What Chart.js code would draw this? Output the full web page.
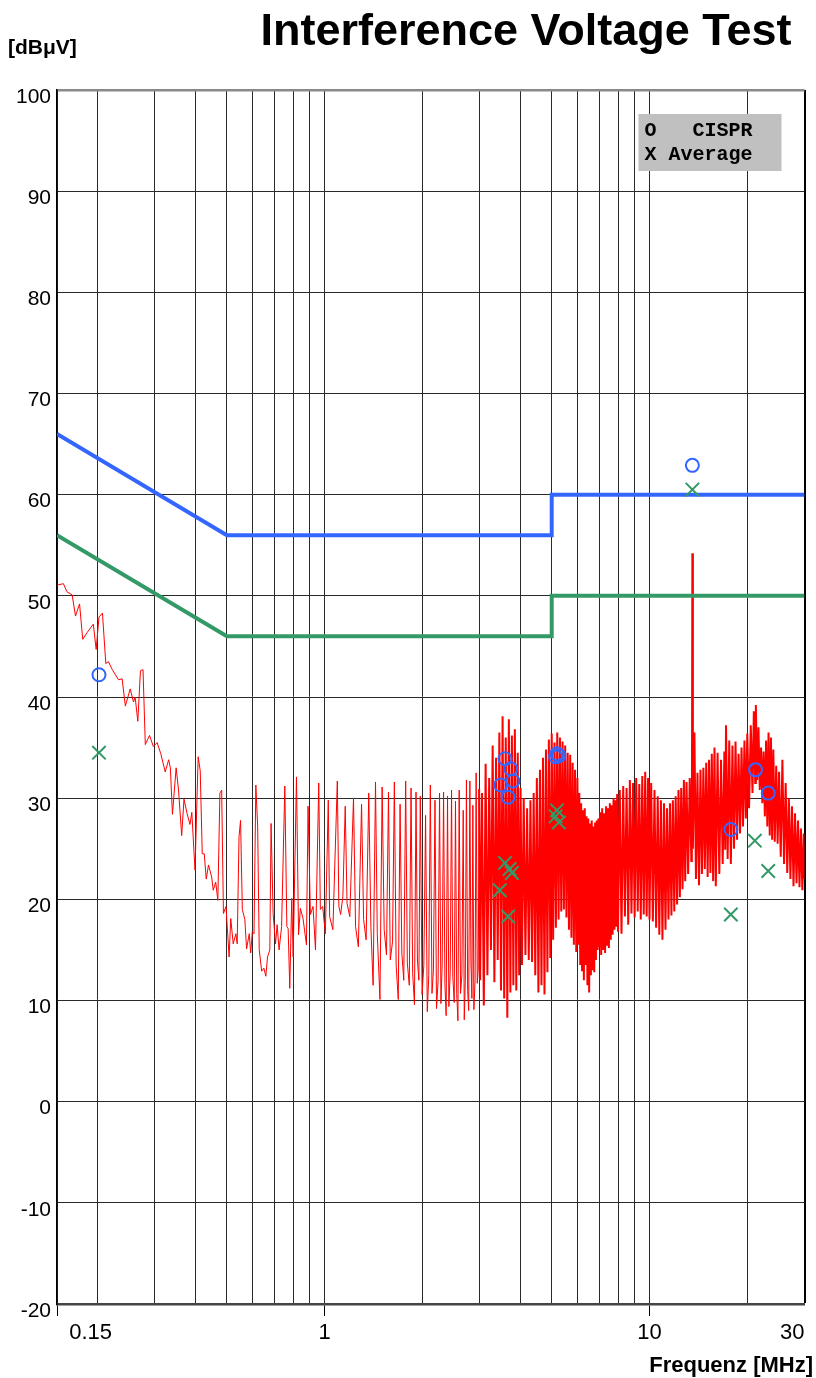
<!DOCTYPE html>
<html>
<head>
<meta charset="utf-8">
<title>Interference Voltage Test</title>
<script src="https://cdn.jsdelivr.net/npm/chart.js@4.4.1/dist/chart.umd.min.js"></script>
<style>
  html, body { margin: 0; padding: 0; background: #fff; }
  #wrap { width: 816px; height: 1378px; position: relative; }
</style>
</head>
<body>
<div id="wrap"><canvas id="myChart" width="816" height="1378"></canvas></div>
<script>
'use strict'
let chartTitle = 'Interference Voltage Test';
let yUnit = '[dBμV]';
let xTitle = 'Frequenz [MHz]';
let legendRows = ['O   CISPR', 'X Average'];

// axis ticks
let xGridValues = [0.15, 0.2, 0.3, 0.4, 0.5, 0.6, 0.7, 0.8, 0.9, 1, 2, 3, 4, 5, 6, 7, 8, 9, 10, 20, 30];
let xTickValues = [0.15, 1, 10, 30];
let xTickLabels = ['  0.15', '1', '10', '30'];
let yMin = -20;
let yMax = 100;
let yStep = 10;

// limit lines
let qpLimitFreq = [0.15, 0.5, 5, 5, 30];
let qpLimitLevel = [66, 56, 56, 60, 60];
let avLimitFreq = [0.15, 0.5, 5, 5, 30];
let avLimitLevel = [56, 46, 46, 50, 50];

// final measurements
let qpFreq = [0.202, 3.48, 3.59, 3.67, 3.74, 3.80, 5.14, 5.19, 5.26, 13.55, 17.8, 21.2, 23.2];
let qpLevel = [42.2, 31.3, 33.9, 30.1, 32.9, 31.7, 34.1, 34.4, 34.2, 62.9, 26.9, 32.8, 30.5];
let avFreq = [0.202, 3.46, 3.59, 3.67, 3.71, 3.77, 5.14, 5.19, 5.26, 13.55, 17.8, 21.1, 23.2];
let avLevel = [34.5, 20.9, 23.6, 18.3, 23.0, 22.6, 28.2, 28.8, 27.6, 60.5, 18.5, 25.8, 22.8];

// pre-scan, [MHz, dBuV]
let scanLow = [
 [0.150,51.0],[0.152,51.1],[0.157,51.2],[0.161,50.4],[0.167,50.1],[0.171,48.0],[0.176,49.2],[0.180,45.7],
 [0.186,46.4],[0.194,47.2],[0.198,44.7],[0.202,47.9],[0.207,48.3],[0.212,43.3],[0.216,43.5],[0.222,42.7],
 [0.232,41.7],[0.238,41.8],[0.2435,39.1],[0.252,40.8],[0.258,39.5],[0.261,40.0],[0.266,37.6],[0.271,42.6],
 [0.276,42.7],[0.2805,35.3],[0.289,36.2],[0.297,35.1],[0.305,35.5],[0.313,34.4],[0.323,32.6],[0.331,33.8],
 [0.335,33.0],[0.340,28.4],[0.349,33.0],[0.355,30.8],[0.363,26.3],[0.369,29.9],[0.377,28.5],[0.385,27.4],
 [0.390,28.6],[0.399,22.9],[0.408,34.1],[0.414,32.7],[0.420,24.5],[0.426,24.5],[0.432,22.0],[0.439,23.4],
 [0.449,22.2],[0.454,20.9],[0.462,21.7],[0.469,19.9],[0.476,30.5],[0.482,30.8],[0.488,18.6],[0.497,19.3],
 [0.508,14.3],[0.514,18.1],[0.523,15.6],[0.533,16.6],[0.538,15.6],[0.545,26.2],[0.551,27.8],[0.558,19.0],
 [0.568,18.0],[0.575,15.1],[0.586,16.6],[0.592,14.7],[0.599,16.8],[0.606,16.6],[0.614,31.3],[0.622,27.2],
 [0.629,15.0],[0.640,12.9],[0.650,13.2],[0.659,12.4],[0.667,14.3],[0.678,15.0],[0.684,27.5],[0.694,18.6],
 [0.706,15.6],[0.714,17.5],[0.724,15.0],[0.737,17.3],[0.754,31.2],[0.765,17.3],[0.772,17.1],[0.781,11.2],
 [0.792,20.1],[0.800,14.3],[0.819,32.1],[0.831,16.5],[0.842,19.1],[0.858,18.1],[0.879,15.5],[0.889,29.2],
 [0.904,18.5],[0.921,19.3],[0.937,15.0],[0.959,31.5],[0.970,19.0],[0.986,19.3],[1.005,16.6],[1.026,29.8],
 [1.036,18.3],[1.060,17.0],[1.094,31.7],[1.106,19.3]
];

let scanComb = [
 [1.120,18.5],[1.138,20.3],[1.157,29.2],[1.172,19.6],[1.195,18.3],[1.227,30.0],[1.245,17.3],[1.270,15.3],
 [1.299,29.4],[1.318,18.0],[1.342,16.0],[1.367,30.5],[1.388,17.2],[1.410,11.5],[1.434,31.6],[1.452,16.6],
 [1.480,10.1],[1.503,31.1],[1.525,17.0],[1.550,14.5],[1.572,30.6],[1.592,14.0],[1.618,15.8],[1.639,31.6],
 [1.660,13.5],[1.685,10.1],[1.707,29.4],[1.728,14.7],[1.752,12.0],[1.776,31.7],[1.797,13.7],[1.822,11.5],
 [1.845,31.0],[1.866,12.7],[1.890,9.6],[1.911,30.6],[1.930,14.0],[1.950,12.0],[1.970,30.2],[1.995,10.6],
 [2.020,13.5],[2.045,28.3],[2.070,8.9],[2.092,12.5],[2.115,31.3],[2.140,10.7],[2.162,13.0],[2.186,29.8],
 [2.210,9.2],[2.235,12.0],[2.258,30.5],[2.280,9.7],[2.300,13.5],[2.323,30.6],[2.345,11.7],[2.366,8.5],
 [2.389,30.2],[2.412,9.4],[2.435,12.8],[2.458,30.8],[2.480,12.4],[2.505,9.8],[2.528,29.7],[2.550,10.7],
 [2.572,8.0],[2.595,30.8],[2.620,10.7],[2.645,12.5],[2.670,28.8],[2.690,8.1],[2.710,12.0],[2.732,31.8],
 [2.755,11.0],[2.776,9.0],[2.799,31.7],[2.820,14.0],[2.840,10.2],[2.859,29.3],[2.880,9.1],[2.905,12.0],
 [2.926,32.5],[2.950,11.7],[2.970,13.0],[2.989,30.9]
];

let scanDense = [
 [3.01,12.0],[3.05,30.5],[3.09,9.5],[3.13,33.4],[3.17,12.5],[3.21,32.0],[3.25,15.0],[3.29,35.2],
 [3.33,11.8],[3.37,34.0],[3.41,14.0],[3.45,36.5],[3.49,11.0],[3.53,38.1],[3.57,10.2],[3.61,36.0],
 [3.65,8.3],[3.69,37.8],[3.73,10.8],[3.77,36.2],[3.81,11.5],[3.85,36.8],[3.89,11.0],[3.93,34.5],
 [3.97,12.5],[4.01,31.0],[4.05,13.5],[4.10,30.0],[4.15,14.5],[4.20,29.0],[4.25,14.0],[4.30,29.8],
 [4.35,13.8],[4.40,30.5],[4.45,12.5],[4.50,32.0],[4.55,10.8],[4.60,32.8],[4.65,11.5],[4.70,34.0],
 [4.75,10.6],[4.80,34.8],[4.85,12.8],[4.90,35.8],[4.95,14.2],[5.00,36.4],[5.05,16.0],[5.10,35.5],
 [5.15,17.2],[5.20,36.5],[5.25,18.0],[5.30,36.0],[5.35,18.8],[5.40,35.6],[5.45,19.0],[5.50,35.2],
 [5.55,18.2],[5.60,34.5],[5.65,17.0],[5.70,34.3],[5.75,16.2],[5.80,33.5],[5.85,15.5],[5.90,32.8],
 [5.95,14.8],[6.00,32.0],[6.04,15.5],[6.08,30.5],[6.12,13.5],[6.16,29.5],[6.20,13.0],[6.24,28.8],
 [6.28,12.0],[6.32,29.0],[6.36,13.5],[6.40,28.2],[6.44,11.5],[6.48,28.0],[6.52,10.8],[6.56,27.5],
 [6.60,12.5],[6.64,27.8],[6.68,13.0],[6.72,27.2],[6.76,12.8],[6.80,27.6],[6.84,14.0],[6.88,27.8],
 [6.92,15.0],[6.96,28.0],[7.00,15.3],[7.05,28.6],[7.10,14.5],[7.15,29.0],[7.20,15.0],[7.25,28.5],
 [7.30,14.7],[7.35,29.2],[7.40,15.5],[7.45,29.0],[7.50,15.2],[7.55,29.5],[7.60,16.0],[7.65,29.3],
 [7.70,16.5],[7.75,30.0],[7.80,17.0],[7.85,29.8],[7.90,17.3],[7.95,30.4],[8.00,16.8],[8.10,30.8],
 [8.20,16.6],[8.30,31.2],[8.40,18.3],[8.50,31.0],[8.60,17.5],[8.70,31.8],[8.80,18.6],[8.90,31.5],
 [9.00,18.2],[9.10,32.0],[9.20,18.8],[9.30,31.4],[9.40,18.0],[9.50,32.2],[9.60,18.5],[9.70,32.6],
 [9.80,18.3],[9.90,32.0],[10.00,18.0],[10.12,31.5],[10.24,17.8],[10.36,30.8],[10.48,17.2],[10.60,30.2],
 [10.72,16.5],[10.84,29.8],[10.96,16.0],[11.08,29.5],[11.20,17.0],[11.32,29.0],[11.44,18.0],[11.56,29.5],
 [11.68,18.4],[11.80,29.8],[11.92,18.8],[12.04,30.2],[12.16,19.5],[12.28,30.8],[12.40,20.2],[12.52,31.0],
 [12.64,21.0],[12.76,31.8],[12.88,21.8],[13.00,31.6],[13.15,22.5],[13.30,32.0],[13.45,23.8],[13.50,24.5],
 [13.55,54.2],[13.60,25.0],[13.75,36.5],[13.90,22.0],[14.05,32.5],[14.20,21.4],[14.35,32.8],[14.50,22.5],
 [14.65,33.0],[14.80,23.0],[14.95,33.5],[15.10,22.2],[15.25,33.8],[15.40,22.6],[15.55,34.4],[15.70,21.8],
 [15.85,35.0],[16.00,21.3],[16.20,34.5],[16.40,22.5],[16.60,33.8],[16.80,23.5],[17.00,34.6],[17.10,24.9],
 [17.20,37.2],[17.40,24.0],[17.60,35.7],[17.80,23.5],[18.00,35.2],[18.20,25.0],[18.40,35.6],[18.60,25.9],
 [18.80,34.4],[19.00,26.5],[19.20,35.0],[19.40,27.2],[19.60,35.7],[19.80,28.0],[20.00,36.4],[20.25,29.0],
 [20.50,37.2],[20.75,30.5],[20.95,38.6],[21.15,31.5],[21.25,39.2],[21.45,31.8],[21.65,37.0],[21.85,30.8],
 [22.05,35.0],[22.25,29.5],[22.45,34.6],[22.65,28.2],[22.85,35.7],[23.05,27.2],[23.25,36.5],[23.45,26.3],
 [23.65,36.0],[23.85,25.9],[24.05,34.8],[24.30,25.7],[24.55,33.2],[24.80,25.5],[25.05,32.6],[25.35,24.2],
 [25.65,33.8],[25.95,23.5],[26.25,31.5],[26.55,22.6],[26.85,30.0],[27.15,22.0],[27.45,29.2],[27.75,21.3],
 [28.05,28.5],[28.35,21.6],[28.65,27.8],[28.95,21.2],[29.25,27.0],[29.55,20.9],[29.85,26.5],[30.00,22.0]
];

function toPoints(fs, ls) {
    let out = [];
    for (let i = 0; i < fs.length; i++) {
        out.push({ x: fs[i], y: ls[i] });
    }
    return out;
}

function pairPoints(list) {
    return list.map(function (p) { return { x: p[0], y: p[1] }; });
}

let lowPoints = pairPoints(scanLow.concat(scanComb));
// dense part starts where the comb ends so the trace stays joined
let densePoints = pairPoints(scanComb.slice(-1).concat(scanDense));

let blueCol = '#3366ff';
let greenCol = '#339966';

// texts and legend box that the plot carries
const decor = {
    id: 'decor',
    afterDraw(chart) {
        let c = chart.ctx;
        let area = chart.chartArea;
        c.save();
        c.fillStyle = '#000';
        c.textBaseline = 'alphabetic';
        c.font = 'bold 45px "Liberation Sans", Arial, sans-serif';
        c.textAlign = 'center';
        c.fillText(chartTitle, 526, 45);
        c.font = 'bold 21px "Liberation Sans", Arial, sans-serif';
        c.textAlign = 'left';
        c.fillText(yUnit, 8, 54);
        c.font = 'bold 22px "Liberation Sans", Arial, sans-serif';
        c.textAlign = 'right';
        c.fillText(xTitle, 813, 1372);

        // legend
        c.fillStyle = '#c0c0c0';
        c.fillRect(area.right - 166, area.top + 24, 143, 57);
        c.fillStyle = '#000';
        c.font = 'bold 20px "Liberation Mono", "Courier New", monospace';
        c.textAlign = 'left';
        c.fillText(legendRows[0], area.right - 160, area.top + 46);
        c.fillText(legendRows[1], area.right - 160, area.top + 70);
        c.restore();
    }
};

let ctx = document.getElementById('myChart').getContext('2d');
let myChart = new Chart(ctx, {
    type: 'line',
    data: {
        datasets: [
            {
                label: 'CISPR',
                data: toPoints(qpFreq, qpLevel),
                showLine: false,
                pointStyle: 'circle',
                pointRadius: 6.5,
                pointBorderWidth: 2,
                pointBorderColor: blueCol,
                pointBackgroundColor: 'rgba(0,0,0,0)',
                order: 0
            },
            {
                label: 'Average',
                data: toPoints(avFreq, avLevel),
                showLine: false,
                pointStyle: 'crossRot',
                pointRadius: 9.5,
                pointBorderWidth: 2,
                pointBorderColor: greenCol,
                order: 0
            },
            {
                label: 'QP limit',
                data: toPoints(qpLimitFreq, qpLimitLevel),
                borderColor: blueCol,
                borderWidth: 4,
                pointRadius: 0,
                tension: 0,
                order: 1
            },
            {
                label: 'AV limit',
                data: toPoints(avLimitFreq, avLimitLevel),
                borderColor: greenCol,
                borderWidth: 4,
                pointRadius: 0,
                tension: 0,
                order: 1
            },
            {
                label: 'Scan',
                data: lowPoints,
                borderColor: '#ff0000',
                borderWidth: 1,
                pointRadius: 0,
                tension: 0,
                order: 2
            },
            {
                label: 'Scan dense',
                data: densePoints,
                borderColor: '#ff0000',
                borderWidth: 2,
                borderJoinStyle: 'miter',
                pointRadius: 0,
                tension: 0,
                order: 2
            }
        ]
    },
    options: {
        responsive: false,
        animation: false,
        devicePixelRatio: 1,
        layout: { padding: { top: 90, right: 10, left: 0, bottom: 0 } },
        plugins: {
            legend: { display: false },
            tooltip: { enabled: false }
        },
        scales: {
            x: {
                type: 'logarithmic',
                min: 0.15,
                max: 30,
                afterBuildTicks: function (scale) {
                    scale.ticks = xGridValues.map(function (v) { return { value: v }; });
                },
                afterFit: function (scale) { scale.height = 74; },
                ticks: {
                    autoSkip: false,
                    maxRotation: 0,
                    align: 'inner',
                    padding: 4,
                    color: '#000',
                    font: { family: '"Liberation Sans", Arial, sans-serif', size: 22 },
                    callback: function (value) {
                        let i = xTickValues.indexOf(value);
                        return i >= 0 ? xTickLabels[i] : '';
                    }
                },
                grid: {
                    color: function (c) { return c.tick && c.tick.value === 30 ? '#000' : '#2a2a2a'; },
                    lineWidth: function (c) { return c.tick && c.tick.value === 30 ? 2 : 1; },
                    tickLength: 12,
                    tickColor: function (c) {
                        return c.tick && (c.tick.value === 1 || c.tick.value === 10 || c.tick.value === 0.15) ? '#000' : 'rgba(0,0,0,0)';
                    }
                },
                border: { color: '#444', width: 2.5 }
            },
            y: {
                type: 'linear',
                min: yMin,
                max: yMax,
                afterFit: function (scale) { scale.width = 57; },
                ticks: {
                    stepSize: yStep,
                    padding: 6,
                    labelOffset: 7,
                    color: '#000',
                    font: { family: '"Liberation Sans", Arial, sans-serif', size: 21 }
                },
                grid: {
                    color: function (c) { return c.tick && c.tick.value === 100 ? '#8a8a8a' : '#2a2a2a'; },
                    lineWidth: function (c) { return c.tick && c.tick.value === 100 ? 2.5 : 1; },
                    drawTicks: false
                },
                border: { color: '#000', width: 1.5 }
            }
        }
    },
    plugins: [decor]
});
</script>
</body>
</html>
